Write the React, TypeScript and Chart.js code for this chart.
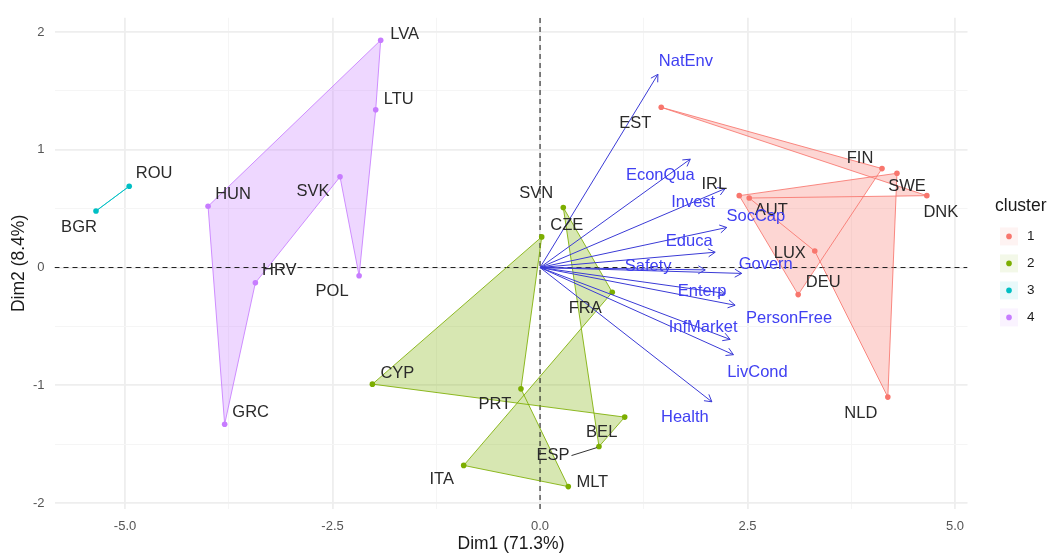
import React, { useEffect, useRef } from 'react';
import { Chart, registerables } from 'chart.js';

Chart.register(...registerables);

// ---------------- data ----------------
const countries = [
  'EST', 'FIN', 'SWE', 'DNK', 'IRL', 'AUT', 'LUX', 'DEU', 'NLD',
  'SVN', 'CZE', 'FRA', 'CYP', 'PRT', 'BEL', 'ESP', 'ITA', 'MLT',
  'BGR', 'ROU',
  'LVA', 'LTU', 'SVK', 'HUN', 'HRV', 'POL', 'GRC',
];
const dim1 = [
  1.46, 4.12, 4.30, 4.66, 2.40, 2.52, 3.31, 3.11, 4.19,
  0.28, 0.02, 0.87, -2.02, -0.23, 1.02, 0.71, -0.92, 0.34,
  -5.35, -4.95,
  -1.92, -1.98, -2.41, -4.00, -3.43, -2.18, -3.80,
];
const dim2 = [
  1.36, 0.84, 0.80, 0.61, 0.61, 0.59, 0.14, -0.23, -1.10,
  0.51, 0.26, -0.21, -0.99, -1.03, -1.27, -1.52, -1.68, -1.86,
  0.48, 0.69,
  1.93, 1.34, 0.77, 0.52, -0.13, -0.07, -1.33,
];
const clusterOf = [
  1, 1, 1, 1, 1, 1, 1, 1, 1,
  2, 2, 2, 2, 2, 2, 2, 2, 2,
  3, 3,
  4, 4, 4, 4, 4, 4, 4,
];
const clusterIds = [1, 2, 3, 4];
const hullOrder = [
  ['EST', 'FIN', 'DEU', 'IRL', 'SWE', 'NLD', 'LUX', 'AUT', 'DNK'],
  ['CZE', 'CYP', 'BEL', 'ESP', 'SVN', 'FRA', 'ITA', 'MLT', 'PRT'],
  ['BGR', 'ROU'],
  ['HUN', 'LVA', 'LTU', 'POL', 'SVK', 'HRV', 'GRC'],
];

const variables = [
  'NatEnv', 'EconQua', 'Invest', 'SocCap', 'Educa', 'Safety',
  'Govern', 'Enterp', 'PersonFree', 'InfMarket', 'LivCond', 'Health',
];
const varDim1 = [1.42, 1.81, 2.23, 2.25, 2.11, 1.99, 2.43, 2.23, 2.35, 2.29, 2.33, 2.07];
const varDim2 = [1.64, 0.92, 0.67, 0.34, 0.13, -0.02, -0.05, -0.22, -0.32, -0.61, -0.74, -1.14];

const xTicks = [-5, -3.75, -2.5, -1.25, 0, 1.25, 2.5, 3.75, 5];
const xTickLabels = ['-5.0', '', '-2.5', '', '0.0', '', '2.5', '', '5.0'];
const yTicks = [-2, -1.5, -1, -0.5, 0, 0.5, 1, 1.5, 2];
const yTickLabels = ['-2', '', '-1', '', '0', '', '1', '', '2'];
const xRange = [-5.85, 5.15];
const yRange = [-2.05, 2.12];

// ---------------- styles / layout ----------------
const FONT = '"Liberation Sans", Arial, sans-serif';
const clusterColors = ['#F8766D', '#7CAE00', '#00BFC4', '#C77CFF'];
const ARROW_COLOR = '#3a3ad6';
const VAR_TEXT = '#4040f2';
const LABEL_TEXT = '#2a2a2a';

const countryNudge: Record<string, [number, number]> = {
  EST: [-26, 16], FIN: [-22, -10], SWE: [10, 13], DNK: [14, 17], IRL: [-25, -11],
  AUT: [22, 12], LUX: [-25, 2], DEU: [25, -12], NLD: [-27, 16],
  SVN: [-27, -14], CZE: [25, -11], FRA: [-27, 16], CYP: [25, -11], PRT: [-26, 16],
  BEL: [-23, 15], ESP: [-46, 9], ITA: [-22, 14], MLT: [24, -4],
  BGR: [-17, 16], ROU: [25, -13],
  LVA: [24, -6], LTU: [23, -10], SVK: [-27, 15], HUN: [25, -12], HRV: [24, -12],
  POL: [-27, 16], GRC: [26, -12],
};
const varNudge: Record<string, [number, number]> = {
  NatEnv: [28, -13], EconQua: [-30, 16], Invest: [-32, 14], SocCap: [29, -11],
  Educa: [-26, -11], Safety: [-57, -3], Govern: [24, -9], Enterp: [-23, -2],
  PersonFree: [54, 13], InfMarket: [-27, -12], LivCond: [24, 18], Health: [-27, 16],
};

function hexA(hex: string, a: number) {
  const n = parseInt(hex.slice(1), 16);
  return `rgba(${(n >> 16) & 255},${(n >> 8) & 255},${n & 255},${a})`;
}

function ptOf(name: string) {
  const i = countries.indexOf(name);
  return { x: dim1[i], y: dim2[i] };
}

const biplotPlugin = {
  id: 'biplotExtras',
  beforeDatasetsDraw(chart: any) {
    const ctx = chart.ctx;
    chart.data.datasets.forEach((ds: any, i: number) => {
      if (!ds.hullFill) return;
      const meta = chart.getDatasetMeta(i);
      ctx.save();
      ctx.beginPath();
      meta.data.forEach((p: any, j: number) => (j ? ctx.lineTo(p.x, p.y) : ctx.moveTo(p.x, p.y)));
      ctx.closePath();
      ctx.fillStyle = ds.hullFill;
      ctx.fill('nonzero');
      ctx.restore();
    });
  },
  afterDatasetsDraw(chart: any) {
    const ctx = chart.ctx;
    const xs = chart.scales.x;
    const ys = chart.scales.y;
    const ox = xs.getPixelForValue(0);
    const oy = ys.getPixelForValue(0);
    ctx.save();
    // arrow heads
    ctx.strokeStyle = ARROW_COLOR;
    ctx.lineWidth = 1;
    const head = 8;
    variables.forEach((_, i) => {
      const tx = xs.getPixelForValue(varDim1[i]);
      const ty = ys.getPixelForValue(varDim2[i]);
      const a = Math.atan2(ty - oy, tx - ox);
      ctx.beginPath();
      ctx.moveTo(tx - head * Math.cos(a - 0.5236), ty - head * Math.sin(a - 0.5236));
      ctx.lineTo(tx, ty);
      ctx.lineTo(tx - head * Math.cos(a + 0.5236), ty - head * Math.sin(a + 0.5236));
      ctx.stroke();
    });
    // country labels
    ctx.font = `16.5px ${FONT}`;
    ctx.textAlign = 'center';
    ctx.textBaseline = 'middle';
    countries.forEach((c, i) => {
      const px = xs.getPixelForValue(dim1[i]);
      const py = ys.getPixelForValue(dim2[i]);
      const [dx, dy] = countryNudge[c];
      const lx = px + dx;
      const ly = py + dy;
      if (Math.hypot(dx, dy) > 40) {
        const w = ctx.measureText(c).width;
        ctx.strokeStyle = '#333';
        ctx.lineWidth = 1;
        ctx.beginPath();
        ctx.moveTo(lx + w / 2 + 2, ly);
        ctx.lineTo(px - 2, py + 1);
        ctx.stroke();
      }
      ctx.fillStyle = LABEL_TEXT;
      ctx.fillText(c, lx, ly);
    });
    // variable labels
    ctx.fillStyle = VAR_TEXT;
    variables.forEach((v, i) => {
      const px = xs.getPixelForValue(varDim1[i]);
      const py = ys.getPixelForValue(varDim2[i]);
      const [dx, dy] = varNudge[v];
      ctx.fillText(v, px + dx, py + dy);
    });
    ctx.restore();
  },
  afterDraw(chart: any) {
    const ctx = chart.ctx;
    const area = chart.chartArea;
    const cy = (area.top + area.bottom) / 2;
    const left = area.right + 27.5;
    ctx.save();
    ctx.textBaseline = 'middle';
    ctx.textAlign = 'left';
    ctx.fillStyle = '#1a1a1a';
    ctx.font = `17.5px ${FONT}`;
    ctx.fillText('cluster', left, cy - 57);
    ctx.font = `13.5px ${FONT}`;
    clusterIds.forEach((id, k) => {
      const y = cy - 27 + k * 27;
      const col = clusterColors[k];
      ctx.fillStyle = hexA(col, 0.09);
      ctx.fillRect(left + 5, y - 9, 18, 18);
      ctx.fillStyle = col;
      ctx.beginPath();
      ctx.arc(left + 14, y, 2.8, 0, Math.PI * 2);
      ctx.fill();
      ctx.fillStyle = '#1a1a1a';
      ctx.fillText(String(id), left + 32, y);
    });
    ctx.restore();
  },
};

export default function App() {
  const ref = useRef<HTMLCanvasElement | null>(null);

  useEffect(() => {
    if (!ref.current) return;
    const datasets: any[] = [];

    // arrows (drawn on top)
    variables.forEach((v, i) => {
      datasets.push({
        label: v,
        data: [{ x: 0, y: 0 }, { x: varDim1[i], y: varDim2[i] }],
        showLine: true,
        borderColor: ARROW_COLOR,
        borderWidth: 1,
        pointRadius: 0,
        fill: false,
        order: 0,
      });
    });

    // individuals
    clusterIds.forEach((id, k) => {
      datasets.push({
        label: `cluster ${id}`,
        data: countries
          .map((c, i) => ({ x: dim1[i], y: dim2[i], c: clusterOf[i] }))
          .filter((p) => p.c === id)
          .map((p) => ({ x: p.x, y: p.y })),
        showLine: false,
        pointRadius: 2.8,
        pointBackgroundColor: clusterColors[k],
        pointBorderColor: clusterColors[k],
        pointBorderWidth: 0,
        order: 1,
      });
    });

    // hull outlines (filled by plugin)
    hullOrder.forEach((names, k) => {
      const pts = names.map(ptOf);
      pts.push(pts[0]);
      datasets.push({
        label: `hull ${k + 1}`,
        data: pts,
        showLine: true,
        borderColor: hexA(clusterColors[k], 0.85),
        borderWidth: 1,
        pointRadius: 0,
        fill: false,
        tension: 0,
        hullFill: hexA(clusterColors[k], 0.3),
        order: 2,
      });
    });

    // dashed zero lines
    datasets.push({
      label: 'h0',
      data: [{ x: xRange[0], y: 0 }, { x: xRange[1], y: 0 }],
      showLine: true,
      borderColor: '#222',
      borderWidth: 1.1,
      borderDash: [5, 4],
      pointRadius: 0,
      fill: false,
      order: 3,
    });
    datasets.push({
      label: 'v0',
      data: [{ x: 0, y: yRange[0] }, { x: 0, y: yRange[1] }],
      showLine: true,
      borderColor: '#222',
      borderWidth: 1.1,
      borderDash: [5, 4],
      pointRadius: 0,
      fill: false,
      order: 3,
    });

    const gridColor = (c: any) => (c.index % 2 === 0 ? '#eeeeee' : '#f5f5f5');
    const gridWidth = (c: any) => (c.index % 2 === 0 ? 1.8 : 1);

    const chart = new Chart(ref.current, {
      type: 'scatter',
      data: { datasets },
      plugins: [biplotPlugin],
      options: {
        animation: false,
        responsive: false,
        devicePixelRatio: 1,
        events: [],
        layout: { padding: { left: 0, right: 85.5, top: 11, bottom: 0 } },
        plugins: {
          legend: { display: false },
          tooltip: { enabled: false },
        },
        scales: {
          x: {
            type: 'linear',
            min: xRange[0],
            max: xRange[1],
            afterBuildTicks: (s: any) => {
              s.ticks = xTicks.map((v) => ({ value: v }));
            },
            afterFit: (s: any) => {
              s.height = 47;
            },
            border: { display: false },
            grid: { color: gridColor, lineWidth: gridWidth, drawTicks: false },
            ticks: {
              autoSkip: false,
              maxRotation: 0,
              padding: 10,
              color: '#555555',
              font: { family: FONT, size: 13 },
              callback: (_v: any, i: number) => xTickLabels[i],
            },
            title: {
              display: true,
              text: 'Dim1 (71.3%)',
              color: '#1a1a1a',
              font: { family: FONT, size: 17.5 },
              padding: { top: 0, bottom: 1 },
            },
          },
          y: {
            type: 'linear',
            min: yRange[0],
            max: yRange[1],
            afterBuildTicks: (s: any) => {
              s.ticks = yTicks.map((v) => ({ value: v }));
            },
            afterFit: (s: any) => {
              s.width = 54.5;
            },
            border: { display: false },
            grid: { color: gridColor, lineWidth: gridWidth, drawTicks: false },
            ticks: {
              autoSkip: false,
              padding: 10,
              color: '#555555',
              font: { family: FONT, size: 13 },
              callback: (_v: any, i: number) => yTickLabels[i],
            },
            title: {
              display: true,
              text: 'Dim2 (8.4%)',
              color: '#1a1a1a',
              font: { family: FONT, size: 17.5 },
              padding: { top: 9, bottom: 0 },
            },
          },
        },
      } as any,
    });
    return () => chart.destroy();
  }, []);

  return (
    <div style={{ position: 'absolute', left: 0, top: 0, width: 1053, height: 556, background: '#fff' }}>
      <canvas ref={ref} width={1053} height={556} style={{ display: 'block' }} />
    </div>
  );
}
